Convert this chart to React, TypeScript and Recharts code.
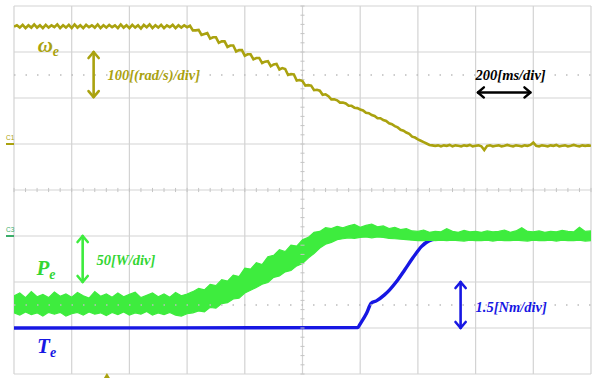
import React from "react";
import {
  Area,
  CartesianGrid,
  ComposedChart,
  Line,
  ReferenceDot,
  ReferenceLine,
  XAxis,
  YAxis,
} from "recharts";

// scope screen: 10 time divisions x 8 vertical divisions
const xDivs = [0, 1, 2, 3, 4, 5, 6, 7, 8, 9, 10];
const yDivs = [0, 1, 2, 3, 4, 5, 6, 7, 8];

// omega_e (div), sampled every 0.05 div
const omegaStep = 0.05;
const omegaValues = [
  7.55, 7.58, 7.53, 7.59, 7.52, 7.58, 7.53, 7.6, 7.53, 7.58,
  7.52, 7.59, 7.53, 7.58, 7.54, 7.6, 7.52, 7.58, 7.53, 7.59,
  7.52, 7.6, 7.53, 7.58, 7.52, 7.59, 7.54, 7.58, 7.53, 7.6,
  7.52, 7.58, 7.53, 7.59, 7.54, 7.58, 7.52, 7.6, 7.53, 7.58,
  7.52, 7.59, 7.53, 7.58, 7.51, 7.59, 7.54, 7.6, 7.52, 7.58,
  7.53, 7.59, 7.52, 7.58, 7.54, 7.59, 7.52, 7.58, 7.53, 7.58,
  7.54,
  7.57, 7.47, 7.47, 7.48, 7.37, 7.39, 7.41, 7.29, 7.32, 7.32,
  7.2, 7.23, 7.23, 7.11, 7.14, 7.14, 7.01, 7.04, 7.04, 6.92,
  6.95, 6.95, 6.84, 6.87, 6.87, 6.76, 6.79, 6.8, 6.69, 6.73,
  6.74, 6.62, 6.65, 6.63, 6.5, 6.52, 6.51, 6.38, 6.39, 6.37,
  6.27, 6.28, 6.27, 6.17, 6.18, 6.16, 6.07, 6.08, 6.04, 5.97,
  5.97, 5.95, 5.9, 5.9, 5.88, 5.83, 5.83, 5.79, 5.78, 5.75,
  5.73, 5.68, 5.67, 5.63, 5.61, 5.56, 5.56, 5.52, 5.5, 5.45,
  5.43, 5.39, 5.36, 5.31, 5.29, 5.25, 5.22, 5.16, 5.14, 5.1,
  5.07, 5.04, 5.01, 4.98,
  4.97, 4.96, 4.97, 4.95, 4.97, 4.96, 4.98, 4.95, 4.97, 4.96,
  4.95, 4.97, 4.96, 4.98, 4.95, 4.96, 4.97, 4.95, 4.87, 4.96,
  4.97, 4.95, 4.96, 4.97, 4.95, 4.96, 4.98, 4.96, 4.95, 4.97,
  4.96, 4.95, 4.97, 4.96, 4.98, 5.03, 4.96, 4.95, 4.97, 4.96,
  4.95, 4.97, 4.96, 4.98, 4.95, 4.96, 4.97, 4.95, 4.96, 4.98,
  4.96, 4.95, 4.97, 4.96, 4.97, 4.96,
];

// P_e noise envelope (div), sampled every 0.1 div
const peStep = 0.1;
const peHigh = [
  1.7, 1.76, 1.66, 1.79, 1.68, 1.73, 1.66, 1.78, 1.69, 1.74,
  1.67, 1.77, 1.7, 1.65, 1.79, 1.69, 1.74, 1.67, 1.76, 1.68,
  1.73, 1.78, 1.66, 1.71, 1.76, 1.68, 1.74, 1.67, 1.77, 1.7,
  1.74, 1.79, 1.86, 1.83, 1.95, 1.92, 2.05, 2.02, 2.15, 2.12,
  2.3, 2.28, 2.42, 2.38, 2.55, 2.58, 2.7, 2.66, 2.8, 2.78,
  2.92, 2.97, 3.08, 3.1, 3.18, 3.16, 3.21, 3.18, 3.22, 3.25,
  3.19, 3.23, 3.26, 3.2, 3.22, 3.16, 3.19, 3.14, 3.16, 3.11,
  3.1, 3.13, 3.08, 3.1, 3.09, 3.16, 3.1, 3.08, 3.12, 3.09,
  3.1, 3.08, 3.11, 3.09, 3.1, 3.13, 3.08, 3.11, 3.18, 3.1,
  3.09, 3.11, 3.08, 3.1, 3.09, 3.12, 3.1, 3.09, 3.19, 3.1,
  3.11,
];
const peLow = [
  1.33, 1.28, 1.35, 1.29, 1.33, 1.26, 1.34, 1.3, 1.34, 1.26,
  1.31, 1.34, 1.28, 1.35, 1.3, 1.33, 1.27, 1.34, 1.29, 1.35,
  1.28, 1.33, 1.3, 1.36, 1.28, 1.33, 1.29, 1.34, 1.28, 1.26,
  1.31, 1.33, 1.37, 1.35, 1.45, 1.43, 1.53, 1.55, 1.63, 1.65,
  1.76, 1.82, 1.88, 1.95, 1.99, 2.1, 2.13, 2.22, 2.25, 2.35,
  2.4, 2.52, 2.62, 2.74, 2.82, 2.86, 2.92, 2.94, 2.96, 2.95,
  2.97, 2.98, 2.96, 2.98, 2.97, 2.95, 2.94, 2.93, 2.92, 2.91,
  2.9, 2.9, 2.91, 2.9, 2.91, 2.9, 2.91, 2.9, 2.89, 2.91,
  2.9, 2.9, 2.91, 2.89, 2.91, 2.9, 2.9, 2.91, 2.9, 2.89,
  2.91, 2.9, 2.9, 2.91, 2.89, 2.91, 2.9, 2.9, 2.91, 2.89,
  2.9,
];

// T_e (div)
const teTime = [0, 5.96, 5.99, 6.11, 6.19, 6.28, 6.42, 6.51, 6.63, 6.77, 6.91, 7.06, 7.2, 7.38, 7.55, 10];
const teValues = [1.0, 1.01, 1.07, 1.32, 1.54, 1.59, 1.72, 1.83, 2.01, 2.26, 2.52, 2.77, 2.9, 2.95, 2.99, 3.0];

const OLIVE = "#aaa20f";
const GREEN = "#3eec3e";
const GREEN_TEXT = "#33d633";
const BLUE = "#1717e3";
const GRID = "#d3d3d3";
const FONT = "'Liberation Serif', 'DejaVu Serif', serif";

const omegaData = omegaValues.map((v, i) => ({ t: +(i * omegaStep).toFixed(2), v }));
const peData = peHigh.map((hi, i) => ({ t: +(i * peStep).toFixed(2), range: [peLow[i], hi] }));
const teData = teTime.map((t, i) => ({ t, v: teValues[i] }));

// graticule minor ticks on the centre cross (5 per division)
const minorX = Array.from({ length: 51 }, (_, i) => +(i * 0.2).toFixed(1));
const minorY = Array.from({ length: 41 }, (_, i) => +(i * 0.2).toFixed(1));

const arrow = (color: string, head = 6, width = 2.5) => (p: any) => {
  const { x1, y1, x2, y2 } = p;
  const dx = x2 - x1;
  const dy = y2 - y1;
  const len = Math.hypot(dx, dy) || 1;
  const ux = dx / len;
  const uy = dy / len;
  const px = -uy;
  const py = ux;
  const w = head * 0.85;
  const a = `${x1 + ux * head + px * w},${y1 + uy * head + py * w} ${x1},${y1} ${x1 + ux * head - px * w},${y1 + uy * head - py * w}`;
  const b = `${x2 - ux * head + px * w},${y2 - uy * head + py * w} ${x2},${y2} ${x2 - ux * head - px * w},${y2 - uy * head - py * w}`;
  return (
    <g stroke={color} strokeWidth={width} fill="none" strokeLinecap="round" strokeLinejoin="round">
      <line x1={x1} y1={y1} x2={x2} y2={y2} />
      <polyline points={a} />
      <polyline points={b} />
    </g>
  );
};

const label = (text: string, color: string, size = 14.5) => (p: any) => (
  <text x={p.cx} y={p.cy} fill={color} fontFamily={FONT} fontWeight="bold" fontStyle="italic" fontSize={size}>
    {text}
  </text>
);

const symbol = (main: string, color: string) => (p: any) => (
  <text x={p.cx} y={p.cy} fill={color} fontFamily={FONT} fontWeight="bold" fontStyle="italic" fontSize={21}>
    {main}
    <tspan fontSize={14} dy={4}>e</tspan>
  </text>
);

const channelMark = (name: string, color: string) => (p: any) => (
  <g>
    <text x={p.cx - 8} y={p.cy - 4} fill={color} fontFamily="Arial, sans-serif" fontSize={6.5}>
      {name}
    </text>
    <line x1={p.cx - 8} y1={p.cy} x2={p.cx} y2={p.cy} stroke={color} strokeWidth={2} />
  </g>
);

const trigger = (p: any) => (
  <polygon points={`${p.cx - 3},${p.cy + 4} ${p.cx + 3},${p.cy + 4} ${p.cx},${p.cy - 1}`} fill={OLIVE} />
);

export default function App() {
  return (
    <div style={{ position: "absolute", left: 0, top: 0, background: "#fff" }}>
      <ComposedChart width={592} height={378} margin={{ top: 6, right: 1, bottom: 4, left: 14 }}>
        <XAxis type="number" dataKey="t" domain={[0, 10]} ticks={xDivs} hide allowDataOverflow />
        <YAxis type="number" domain={[0, 8]} ticks={yDivs} hide allowDataOverflow />
        <CartesianGrid stroke={GRID} strokeWidth={1.2} />
        <ReferenceLine y={6.5} stroke="#bdbdbd" strokeWidth={1.5} strokeDasharray="1.5 10" />
        <ReferenceLine y={1.5} stroke="#bdbdbd" strokeWidth={1.5} strokeDasharray="1.5 10" />
        {minorX.map((t) => (
          <ReferenceLine
            key={`mx${t}`}
            segment={[{ x: t, y: 3.955 }, { x: t, y: 4.045 }]}
            stroke="#c4c4c4"
            strokeWidth={1}
          />
        ))}
        {minorY.map((v) => (
          <ReferenceLine
            key={`my${v}`}
            segment={[{ x: 4.965, y: v }, { x: 5.035, y: v }]}
            stroke="#c4c4c4"
            strokeWidth={1}
          />
        ))}

        <Line data={omegaData} dataKey="v" type="linear" stroke={OLIVE} strokeWidth={2.6} dot={false} isAnimationActive={false} />
        {/* torque drawn as an unfilled area so the power band stacks above it */}
        <Area
          data={teData}
          dataKey="v"
          type="monotone"
          stroke={BLUE}
          strokeWidth={3.4}
          fill="none"
          fillOpacity={0}
          dot={false}
          activeDot={false}
          isAnimationActive={false}
        />
        <Area
          data={peData}
          dataKey="range"
          type="linear"
          stroke={GREEN}
          strokeWidth={1.2}
          fill={GREEN}
          fillOpacity={1}
          dot={false}
          activeDot={false}
          isAnimationActive={false}
        />

        <ReferenceLine segment={[{ x: 1.38, y: 7.0 }, { x: 1.38, y: 6.02 }]} shape={arrow(OLIVE, 6, 2.6)} />
        <ReferenceLine segment={[{ x: 1.19, y: 3.0 }, { x: 1.19, y: 2.0 }]} shape={arrow(GREEN, 6, 2.6)} />
        <ReferenceLine segment={[{ x: 7.74, y: 2.0 }, { x: 7.74, y: 1.0 }]} shape={arrow(BLUE, 6, 2.6)} />
        <ReferenceLine segment={[{ x: 8.04, y: 6.12 }, { x: 8.95, y: 6.12 }]} shape={arrow("#000", 6, 2.4)} />

        <ReferenceDot x={0.41} y={6.99} shape={symbol("ω", OLIVE)} />
        <ReferenceDot x={0.39} y={2.15} shape={symbol("P", GREEN_TEXT)} />
        <ReferenceDot x={0.4} y={0.46} shape={symbol("T", BLUE)} />
        <ReferenceDot x={1.62} y={6.4} shape={label("100[(rad/s)/div]", OLIVE)} />
        <ReferenceDot x={8.0} y={6.4} shape={label("200[ms/div]", "#000")} />
        <ReferenceDot x={1.43} y={2.37} shape={label("50[W/div]", GREEN_TEXT)} />
        <ReferenceDot x={8.0} y={1.35} shape={label("1.5[Nm/div]", BLUE)} />

        <ReferenceDot x={0} y={5} shape={channelMark("C1", OLIVE)} />
        <ReferenceDot x={0} y={3} shape={channelMark("C3", "#3cae6a")} />
        <ReferenceDot x={1.61} y={0} shape={trigger} />
      </ComposedChart>
    </div>
  );
}
